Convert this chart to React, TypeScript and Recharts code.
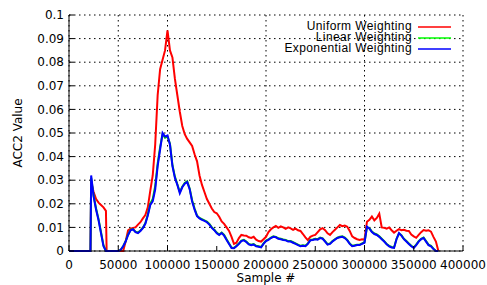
import { LineChart, Line, XAxis, YAxis, CartesianGrid, Legend } from 'recharts'

// sample numbers (x) shared by the three weightings
const samples = [
  0, 10000, 21000, 21800, 22500, 25000, 27500, 30000, 32500, 35000,
  37500, 38200, 40000, 42500, 45000, 47500, 50000, 52500, 55000, 57500,
  60000, 62500, 65000, 67500, 70000, 72500, 75000, 77500, 80000, 82500,
  85000, 87500, 90000, 92500, 95000, 97500, 100000, 102500, 105000, 107500,
  110000, 112500, 115000, 117500, 120000, 122500, 125000, 127500, 130000, 132500,
  135000, 137500, 140000, 142500, 145000, 147500, 150000, 152500, 155000, 157500,
  160000, 162500, 165000, 167500, 170000, 172500, 175000, 177500, 180000, 182500,
  185000, 187500, 190000, 192500, 195000, 197500, 200000, 202500, 205000, 207500,
  210000, 212500, 215000, 217500, 220000, 222500, 225000, 227500, 230000, 232500,
  235000, 237500, 240000, 242500, 245000, 247500, 250000, 252500, 255000, 257500,
  260000, 262500, 265000, 267500, 270000, 272500, 275000, 277500, 280000, 282500,
  285000, 287500, 290000, 292500, 295000, 297500, 300000, 302500, 305000, 307500,
  310000, 312500, 315000, 317500, 320000, 322500, 325000, 327500, 330000, 332500,
  335000, 337500, 340000, 342500, 345000, 347500, 350000, 352500, 355000, 357500,
  360000, 362500, 365000, 367500, 370000, 372500, 375000,
]

const uniformValues = [
  0, 0, 0, 0, 0.029, 0.025, 0.022, 0.0205, 0.0195, 0.0185,
  0.017, 0, 0, 0, 0, 0, 0, 0, 0, 0.004,
  0.0088, 0.0095, 0.0098, 0.01, 0.0112, 0.0122, 0.0138, 0.0152, 0.0185, 0.0255,
  0.032, 0.045, 0.066, 0.077, 0.081, 0.085, 0.0935, 0.085, 0.082, 0.073,
  0.066, 0.059, 0.053, 0.0495, 0.0475, 0.046, 0.0445, 0.041, 0.038, 0.032,
  0.028, 0.025, 0.022, 0.02, 0.018, 0.0165, 0.016, 0.0145, 0.0125, 0.0115,
  0.01, 0.0085, 0.006, 0.003, 0.0035, 0.0055, 0.0068, 0.0066, 0.0065, 0.0058,
  0.0055, 0.006, 0.0048, 0.0042, 0.004, 0.005, 0.006, 0.008, 0.0092, 0.01,
  0.0106, 0.0098, 0.0104, 0.01, 0.0094, 0.01, 0.0096, 0.009, 0.0095, 0.0088,
  0.0085, 0.0072, 0.0058, 0.0046, 0.006, 0.0065, 0.0068, 0.008, 0.0092, 0.0097,
  0.0088, 0.0075, 0.0068, 0.008, 0.009, 0.01, 0.011, 0.0105, 0.0108, 0.0103,
  0.0085, 0.0062, 0.0055, 0.005, 0.0047, 0.005, 0.0048, 0.0124, 0.0132, 0.0146,
  0.013, 0.014, 0.0158, 0.01, 0.0098, 0.0095, 0.01, 0.0088, 0.0078, 0.0086,
  0.0093, 0.0088, 0.009, 0.0086, 0.0085, 0.007, 0.0062, 0.0056, 0.0068, 0.008,
  0.0089, 0.0086, 0.0088, 0.0082, 0.006, 0.004, 0,
]

const linearValues = [
  0, 0, 0, 0, 0.031, 0.0235, 0.018, 0.0135, 0.008, 0.0025,
  0, 0, 0, 0, 0, 0, 0, 0.0005, 0.002, 0.0042,
  0.007, 0.009, 0.0093, 0.0082, 0.0078, 0.0087, 0.0099, 0.0118, 0.0155, 0.02,
  0.022, 0.0275, 0.037, 0.044, 0.0495, 0.048, 0.0485, 0.0455, 0.0365, 0.0315,
  0.0283, 0.025, 0.0272, 0.0288, 0.0295, 0.0265, 0.0215, 0.018, 0.015, 0.014,
  0.0135, 0.013, 0.0125, 0.0115, 0.01, 0.009, 0.0078, 0.007, 0.0078, 0.0068,
  0.005, 0.0032, 0.0015, 0.0013, 0.0022, 0.0032, 0.0044, 0.0047, 0.004, 0.003,
  0.0027, 0.0029, 0.0022, 0.002, 0.0017, 0.0032, 0.0044, 0.0049, 0.0057, 0.0062,
  0.006, 0.0054, 0.0052, 0.0049, 0.0047, 0.0042, 0.0042, 0.0037, 0.0032, 0.0027,
  0.0022, 0.0024, 0.0022, 0.0032, 0.0047, 0.0049, 0.0052, 0.005, 0.0057, 0.0054,
  0.0042, 0.0029, 0.0032, 0.0042, 0.005, 0.0057, 0.006, 0.0062, 0.0057, 0.0047,
  0.0032, 0.0022, 0.0024, 0.0027, 0.0027, 0.0032, 0.0037, 0.01, 0.0097, 0.0082,
  0.0074, 0.007, 0.0062, 0.0052, 0.0042, 0.003, 0.0022, 0.0017, 0.0015, 0.0052,
  0.0074, 0.0067, 0.0052, 0.0042, 0.0032, 0.0022, 0.0015, 0.0027, 0.0042, 0.0052,
  0.0057, 0.0042, 0.0027, 0.0022, 0.001, 0, 0,
]

const exponentialValues = [
  0, 0, 0, 0, 0.032, 0.023, 0.0175, 0.013, 0.0075, 0.002,
  0, 0, 0, 0, 0, 0, 0, 0.0005, 0.002, 0.004,
  0.0068, 0.0088, 0.0092, 0.008, 0.0076, 0.0085, 0.0097, 0.0115, 0.015, 0.0195,
  0.021, 0.026, 0.036, 0.043, 0.05, 0.0485, 0.049, 0.045, 0.036, 0.031,
  0.028, 0.0245, 0.027, 0.0285, 0.0292, 0.0262, 0.021, 0.0175, 0.0148, 0.0138,
  0.0132, 0.0128, 0.0122, 0.0112, 0.0098, 0.0088, 0.0075, 0.0068, 0.0076, 0.0065,
  0.0047, 0.003, 0.0013, 0.0012, 0.002, 0.003, 0.0042, 0.0045, 0.0038, 0.0028,
  0.0025, 0.0027, 0.002, 0.0018, 0.0015, 0.003, 0.0042, 0.0047, 0.0055, 0.006,
  0.0058, 0.0052, 0.005, 0.0047, 0.0045, 0.004, 0.004, 0.0035, 0.003, 0.0025,
  0.002, 0.0022, 0.002, 0.003, 0.0045, 0.0047, 0.005, 0.0048, 0.0055, 0.0052,
  0.004, 0.0027, 0.003, 0.004, 0.0048, 0.0055, 0.0058, 0.006, 0.0055, 0.0045,
  0.003, 0.002, 0.0022, 0.0025, 0.0025, 0.003, 0.0035, 0.0103, 0.0095, 0.008,
  0.0072, 0.0068, 0.006, 0.005, 0.004, 0.0028, 0.002, 0.0015, 0.0013, 0.005,
  0.0076, 0.0065, 0.005, 0.004, 0.003, 0.002, 0.0013, 0.0025, 0.004, 0.005,
  0.0055, 0.004, 0.0025, 0.002, 0.0008, 0, 0,
]

const xTicks = [0, 50000, 100000, 150000, 200000, 250000, 300000, 350000, 400000]
const yTicks = [0, 0.01, 0.02, 0.03, 0.04, 0.05, 0.06, 0.07, 0.08, 0.09, 0.1]

const series = [
  { key: 'uniform', name: 'Uniform Weighting', color: '#ff0000' },
  { key: 'linear', name: 'Linear Weighting', color: '#00c000' },
  { key: 'exponential', name: 'Exponential Weighting', color: '#0000ff' },
]

const data = samples.map((s, i) => ({
  sample: s,
  uniform: uniformValues[i],
  linear: linearValues[i],
  exponential: exponentialValues[i],
}))

const FONT = '"DejaVu Sans", sans-serif'
const tickStyle = { fill: '#000', fontSize: 12, fontFamily: FONT }

function LegendBox() {
  return (
    <div style={{ fontFamily: '"Liberation Sans", Arial, sans-serif', fontSize: 12, letterSpacing: 0.4, color: '#000' }}>
      {series.map(s => (
        <div key={s.key} style={{ display: 'flex', justifyContent: 'flex-end', alignItems: 'center', height: 11 }}>
          <span style={{ lineHeight: '11px', whiteSpace: 'nowrap' }}>{s.name}</span>
          <svg width={33} height={4} style={{ marginLeft: 6 }}>
            <line x1={0} x2={33} y1={2} y2={2} stroke={s.key === 'linear' ? '#00ff00' : s.color} strokeWidth={1.5} />
          </svg>
        </div>
      ))}
    </div>
  )
}

export default function App() {
  return (
    <div style={{ position: 'absolute', left: 0, top: 0, background: '#fff' }}>
      <LineChart width={487} height={285} data={data} margin={{ top: 15, right: 24, left: 0, bottom: 0 }}>
        <CartesianGrid stroke="#000" strokeDasharray="1.5 3.5" />
        <XAxis
          dataKey="sample"
          type="number"
          domain={[0, 400000]}
          ticks={xTicks}
          height={34}
          tick={tickStyle}
          tickSize={-5}
          tickMargin={14}
          axisLine={{ stroke: '#000' }}
          tickLine={{ stroke: '#000' }}
          label={{ value: 'Sample #', position: 'insideBottom', offset: 3, fill: '#000', fontSize: 12, fontFamily: FONT }}
        />
        <XAxis
          xAxisId="top"
          orientation="top"
          type="number"
          domain={[0, 400000]}
          ticks={xTicks}
          height={0}
          tick={false}
          tickSize={-5}
          axisLine={{ stroke: '#000' }}
          tickLine={{ stroke: '#000' }}
        />
        <YAxis
          type="number"
          domain={[0, 0.1]}
          ticks={yTicks}
          width={69}
          tick={tickStyle}
          tickSize={-5}
          tickMargin={10}
          axisLine={{ stroke: '#000' }}
          tickLine={{ stroke: '#000' }}
          label={{ value: 'ACC2 Value', angle: -90, position: 'center', dx: -17, fill: '#000', fontSize: 12, fontFamily: FONT }}
        />
        <YAxis
          yAxisId="right"
          orientation="right"
          type="number"
          domain={[0, 0.1]}
          ticks={yTicks}
          width={0}
          tick={false}
          tickSize={-5}
          axisLine={{ stroke: '#000' }}
          tickLine={{ stroke: '#000' }}
        />
        <Legend
          layout="vertical"
          align="center"
          verticalAlign="middle"
          content={() => <LegendBox />}
          wrapperStyle={{ top: 21, left: 240, width: 211 }}
        />
        {series.map(s => (
          <Line
            key={s.key}
            dataKey={s.key}
            name={s.name}
            type="linear"
            stroke={s.color}
            strokeWidth={2}
            dot={false}
            activeDot={false}
            isAnimationActive={false}
          />
        ))}
      </LineChart>
    </div>
  )
}
